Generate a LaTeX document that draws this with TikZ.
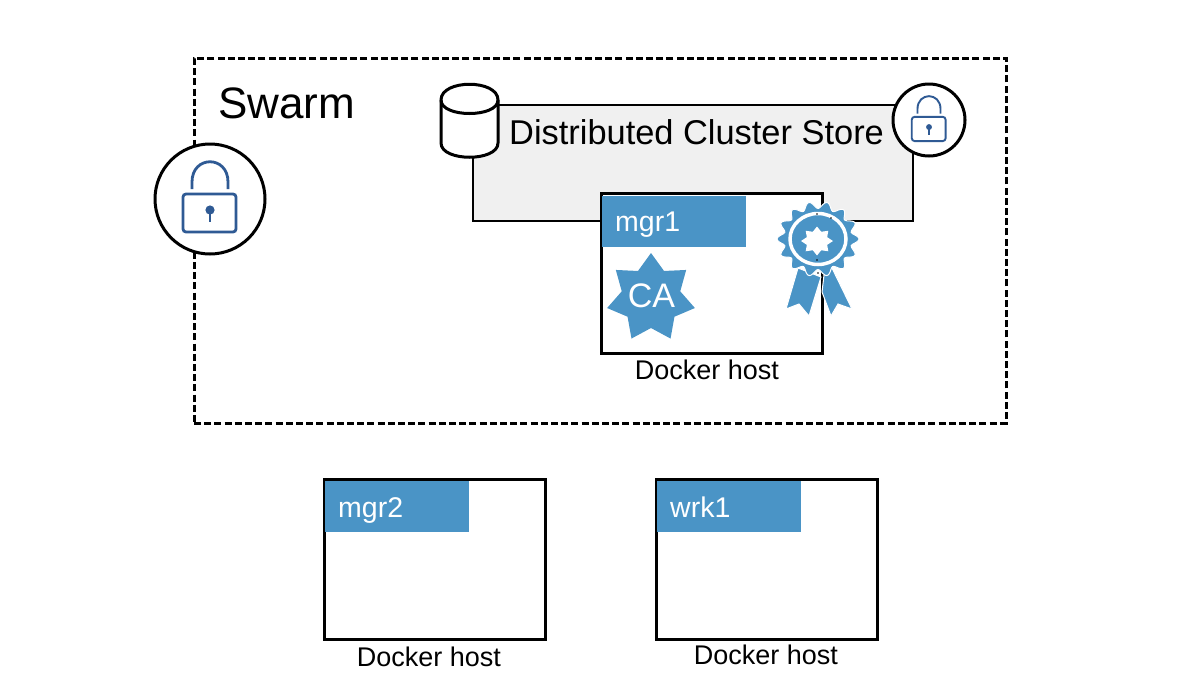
\documentclass[tikz,border=0pt]{standalone}
\usepackage{fontspec}
\setmainfont{Liberation Sans}
\definecolor{dockblue}{HTML}{4A94C6}
\definecolor{lockblue}{HTML}{2F5A94}
\definecolor{storegray}{HTML}{F0F0F0}
\newcommand{\fsz}[1]{\fontsize{#1}{#1}\selectfont}
\tikzset{
  x=1pt,y=-1pt,
  hostbox/.style={draw=black,line width=3pt,fill=white,minimum width=221pt,minimum height=160pt,inner sep=0pt},
  hostlabel/.style={fill=dockblue,minimum width=144pt,minimum height=51pt,inner sep=0pt},
  hosttitle/.style={anchor=base west,text=white,inner sep=0pt,font=\fsz{28.5}},
  hostcaption/.style={anchor=base,inner sep=0pt,font=\fsz{27}},
  lockcircle/.style={circle,draw=black,line width=3pt,fill=white,inner sep=0pt},
  lockpic/.pic={
    \draw[lockblue,rounded corners=3pt] (-27,-5) rectangle (26,33);
    \draw[lockblue] (-18,-10) -- (-18,-17) .. controls (-18,-44) and (18,-44) .. (18,-17) -- (18,-10);
    \fill[lockblue] (0,11) circle[radius=4.6];
    \draw[lockblue] (0,11) -- (0,23);
  }
}
\begin{document}
\begin{tikzpicture}
\useasboundingbox (0,0) rectangle (1180,689);
\fill[white] (0,0) rectangle (1180,689);
% swarm
\node[draw=black,line width=3pt,dash pattern=on 7pt off 3.2pt,minimum width=812pt,minimum height=365pt,inner sep=0pt] (swarm) at (600,240.5) {};
\node[anchor=base west,inner sep=0pt,font=\fsz{44}] (swarmtitle) at (218,118) {Swarm};
% big lock
\node[lockcircle,minimum size=110pt] (lockbig) at (210,199) {};
\pic[line width=2.8pt] (lockbigicon) at (210,199) {lockpic};
% store
\node[draw=black,line width=1.9pt,fill=storegray,minimum width=440pt,minimum height=116pt,inner sep=0pt] (store) at (693,163) {};
\node[anchor=base west,inner sep=0pt,font=\fsz{34.4}] (storetitle) at (509,144) {Distributed Cluster Store};
% cylinder
\path[fill=white,draw=black,line width=3pt] (441,100) -- (441,143)
  .. controls (441,162) and (498,162) .. (498,143) -- (498,100)
  .. controls (498,79) and (441,79) .. (441,100) -- cycle;
\draw[line width=3pt] (441,100) .. controls (441,118) and (498,118) .. (498,100);
% small lock
\node[lockcircle,minimum size=72pt] (locksmall) at (929,120) {};
\pic[scale=.64,line width=1.9pt] (locksmallicon) at (929,120) {lockpic};
% mgr1
\node[hostbox] (host1) at (711.5,273) {};
\node[hostlabel] (label1) at (674,221) {};
\node[hosttitle] (name1) at (615,231) {mgr1};
\fill[dockblue] plot[samples at={0,...,13}] ({651+(mod(\x,2)==0?45:30)*cos(-90+\x*180/7)},{298+(mod(\x,2)==0?45:30)*sin(-90+\x*180/7)}) -- cycle;
\node[text=white,inner sep=0pt,font=\fsz{34}] (catext) at (651.5,296) {CA};
\node[hostcaption] (cap1) at (707,379) {Docker host};
% badge
\fill[dockblue,draw=white,line width=1pt] (798,268) -- (786,309) -- (799,304) -- (809,316) -- (821,277) -- cycle;
\fill[dockblue,draw=white,line width=1pt] (832,268) -- (852,309) -- (838,304) -- (831,316) -- (822,292) -- (824,275) -- cycle;
\fill[dockblue,draw=white,line width=1pt] plot[smooth cycle,domain=0:357.5,samples=144] ({818+(37.5+3.5*cos(14*\x))*cos(\x)},{239+(34+3.5*cos(14*\x))*sin(\x)});
\draw[white,line width=3.5pt] (818,239) ellipse[x radius=28,y radius=25.5];
\fill[white] plot[samples at={0,...,15}] ({817+(mod(\x,2)==0?16:11)*cos(-90+\x*180/8)},{241+(mod(\x,2)==0?14.5:10)*sin(-90+\x*180/8)}) -- cycle;
\foreach \dx/\dy in {-1/-26,13/-22,-1/20,0/33}{\fill[black] (818+\dx,240+\dy) circle[radius=.9];}
% mgr2
\node[hostbox] (host2) at (434.5,559.5) {};
\node[hostlabel] (label2) at (397,506.5) {};
\node[hosttitle] (name2) at (338,517) {mgr2};
\node[hostcaption] (cap2) at (429,666) {Docker host};
% wrk1
\node[hostbox] (host3) at (766.5,559.5) {};
\node[hostlabel] (label3) at (729,506.5) {};
\node[hosttitle] (name3) at (670,517) {wrk1};
\node[hostcaption] (cap3) at (766,664) {Docker host};
\end{tikzpicture}
\end{document}
